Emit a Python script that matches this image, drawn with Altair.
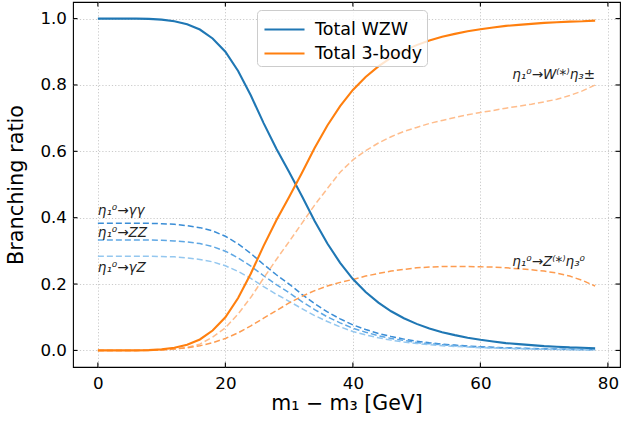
import altair as alt
import pandas as pd

# sample points (m1 - m3 in GeV)
X = [0, 2, 4, 6, 8, 10, 12, 14, 16, 18, 20, 22, 24, 26, 28, 30, 32, 34, 36, 38,
     40, 42, 44, 46, 48, 50, 52, 54, 56, 58, 60, 62, 64, 66, 68, 70, 72, 74, 76, 78]

WZW = [1.000, 1.000, 1.000, 1.000, 0.999, 0.997, 0.992, 0.983, 0.967, 0.940,
       0.900, 0.842, 0.768, 0.685, 0.608, 0.538, 0.465, 0.390, 0.322, 0.264,
       0.215, 0.176, 0.144, 0.118, 0.097, 0.080, 0.066, 0.055, 0.046, 0.038,
       0.032, 0.027, 0.022, 0.019, 0.016, 0.013, 0.011, 0.009, 0.008, 0.006]
THREE = [0.000, 0.000, 0.000, 0.000, 0.001, 0.003, 0.008, 0.017, 0.033, 0.060,
         0.100, 0.158, 0.232, 0.315, 0.392, 0.462, 0.535, 0.610, 0.678, 0.736,
         0.785, 0.824, 0.856, 0.882, 0.903, 0.920, 0.934, 0.945, 0.954, 0.962,
         0.968, 0.973, 0.978, 0.981, 0.984, 0.987, 0.989, 0.991, 0.992, 0.994]
GG = [0.383, 0.383, 0.383, 0.383, 0.383, 0.382, 0.380, 0.376, 0.370, 0.360,
      0.344, 0.321, 0.292, 0.259, 0.228, 0.200, 0.169, 0.141, 0.116, 0.095,
      0.077, 0.063, 0.051, 0.042, 0.034, 0.028, 0.023, 0.019, 0.016, 0.013,
      0.011, 0.0095, 0.008, 0.0067, 0.0056, 0.0047, 0.004, 0.0033, 0.0028, 0.0023]
ZZ = [0.333, 0.333, 0.333, 0.333, 0.333, 0.332, 0.330, 0.327, 0.322, 0.313,
      0.299, 0.279, 0.254, 0.225, 0.198, 0.174, 0.147, 0.123, 0.101, 0.083,
      0.067, 0.055, 0.044, 0.036, 0.030, 0.024, 0.020, 0.017, 0.014, 0.0115,
      0.0095, 0.008, 0.0068, 0.0057, 0.0048, 0.004, 0.0034, 0.0028, 0.0024, 0.002]
GZ = [0.284, 0.284, 0.284, 0.284, 0.284, 0.283, 0.282, 0.279, 0.274, 0.267,
      0.255, 0.238, 0.217, 0.192, 0.169, 0.148, 0.126, 0.105, 0.087, 0.071,
      0.057, 0.047, 0.038, 0.031, 0.025, 0.021, 0.017, 0.014, 0.012, 0.010,
      0.0082, 0.0069, 0.0058, 0.0049, 0.0041, 0.0034, 0.0029, 0.0024, 0.002, 0.0017]
W_ETA = [0.000, 0.000, 0.000, 0.000, 0.000, 0.001, 0.004, 0.009, 0.019, 0.040,
         0.068, 0.110, 0.160, 0.218, 0.274, 0.328, 0.383, 0.438, 0.488, 0.537,
         0.574, 0.602, 0.625, 0.644, 0.660, 0.672, 0.684, 0.693, 0.702, 0.710,
         0.717, 0.723, 0.730, 0.736, 0.742, 0.749, 0.757, 0.768, 0.782, 0.800]
Z_ETA = [0.000, 0.000, 0.000, 0.000, 0.001, 0.002, 0.004, 0.008, 0.014, 0.023,
         0.036, 0.053, 0.074, 0.097, 0.120, 0.143, 0.163, 0.180, 0.194, 0.205,
         0.214, 0.224, 0.232, 0.239, 0.244, 0.249, 0.251, 0.253, 0.253, 0.253,
         0.252, 0.251, 0.249, 0.246, 0.243, 0.239, 0.233, 0.224, 0.211, 0.194]

SOLID_NAMES = ["Total WZW", "Total 3-body"]
SOLID_COLORS = ["#1f77b4", "#ff7f0e"]
DASH_NAMES = ["gg", "zz", "gz", "weta", "zeta"]
DASH_COLORS = ["#3a8dd6", "#5ea7e4", "#94c7ef", "#ffbd8c", "#fd9c50"]

LABEL_TEXT = ["η₁⁰→γγ", "η₁⁰→ZZ", "η₁⁰→γZ", "η₁⁰→W⁽*⁾η₃±", "η₁⁰→Z⁽*⁾η₃⁰"]
LABEL_X = [0.0, 0.0, 0.0, 65.0, 65.0]
LABEL_Y = [0.420, 0.354, 0.248, 0.830, 0.266]

XTICKS = [0, 20, 40, 60, 80]
YTICKS = [0.0, 0.2, 0.4, 0.6, 0.8, 1.0]

W, H = 547, 365

solid = pd.DataFrame({
    "x": X + X,
    "y": WZW + THREE,
    "series": [SOLID_NAMES[0]] * len(X) + [SOLID_NAMES[1]] * len(X),
})
dash_vals = [GG, ZZ, GZ, W_ETA, Z_ETA]
dashed = pd.DataFrame({
    "x": X * len(DASH_NAMES),
    "y": [v for s in dash_vals for v in s],
    "series": [n for n in DASH_NAMES for _ in X],
})
labels = pd.DataFrame({"x": LABEL_X, "y": LABEL_Y, "t": LABEL_TEXT})
xt = pd.DataFrame({"x": XTICKS})
yt = pd.DataFrame({"y": YTICKS})

xscale = alt.Scale(domain=[-3.9, 81.9], nice=False, zero=False)
yscale = alt.Scale(domain=[-0.05, 1.05], nice=False, zero=False)

xaxis = alt.Axis(values=XTICKS, format="d", title="m₁ − m₃ [GeV]", grid=True,
                 ticks=False, domain=False, labelPadding=8,
                 labelFontSize=16.7, titleFontSize=20.5, titleFontWeight="normal",
                 titleX=W / 2, titleY=42.5, titleBaseline="alphabetic", titleAlign="center",
                 gridColor="#c4c4c4", gridDash=[1.2, 2], gridWidth=0.9,
                 labelColor="black", titleColor="black", labelFlush=False)
yaxis = alt.Axis(values=YTICKS, format=".1f", title="Branching ratio", grid=True,
                 ticks=False, domain=False, labelPadding=6.5,
                 labelFontSize=16.7, titleFontSize=20.8, titleFontWeight="normal",
                 titleAngle=270, titleX=-56.5, titleY=H / 2, titleBaseline="middle",
                 titleAlign="center",
                 gridColor="#c4c4c4", gridDash=[1.2, 2], gridWidth=0.9,
                 labelColor="black", titleColor="black", labelFlush=False)

XENC = alt.X("x:Q", scale=xscale, axis=xaxis)
YENC = alt.Y("y:Q", scale=yscale, axis=yaxis)

dash_layer = alt.Chart(dashed).mark_line(strokeDash=[6, 3], strokeWidth=1.5).encode(
    x=XENC, y=YENC,
    color=alt.Color("series:N", scale=alt.Scale(domain=DASH_NAMES, range=DASH_COLORS), legend=None),
    detail="series:N",
)

solid_layer = alt.Chart(solid).mark_line(strokeWidth=2.1).encode(
    x=XENC, y=YENC,
    color=alt.Color(
        "series:N",
        scale=alt.Scale(domain=SOLID_NAMES, range=SOLID_COLORS),
        sort=SOLID_NAMES,
        legend=alt.Legend(
            title=None, orient="none", legendX=184, legendY=8,
            symbolType="M-1.43,0H1.43", symbolSize=784, symbolStrokeWidth=2.1,
            symbolOffset=8,
            labelFontSize=17.5, labelOffset=15, rowPadding=0, padding=4,
            fillColor="rgba(255,255,255,0.8)", strokeColor="#cccccc",
            cornerRadius=4, labelColor="black",
        ),
    ),
)

text_layer = alt.Chart(labels).mark_text(
    align="left", baseline="middle", fontStyle="italic", fontSize=13.5,
    font="DejaVu Sans", color="#222222",
).encode(x=XENC, y=YENC, text="t:N")

TL = 4.5
tick_style = dict(color="black", strokeWidth=1.1)
xb = alt.Chart(xt).mark_rule(**tick_style).encode(
    x=XENC, y=alt.value(H - TL), y2=alt.value(H))
xtp = alt.Chart(xt).mark_rule(**tick_style).encode(
    x=XENC, y=alt.value(0), y2=alt.value(TL))
yl = alt.Chart(yt).mark_rule(**tick_style).encode(
    y=YENC, x=alt.value(0), x2=alt.value(TL))
yr = alt.Chart(yt).mark_rule(**tick_style).encode(
    y=YENC, x=alt.value(W - TL), x2=alt.value(W))

chart = alt.layer(dash_layer, solid_layer, text_layer, xb, xtp, yl, yr).resolve_scale(
    color="independent"
).properties(
    width=W, height=H,
    autosize=alt.AutoSizeParams(type="none"),
    padding={"left": 73, "top": 2, "right": 2, "bottom": 60},
    background="white",
).configure(font="DejaVu Sans").configure_view(stroke="black", strokeWidth=1.1)

chart.save("out.html", embed_options={"renderer": "svg", "actions": False})
